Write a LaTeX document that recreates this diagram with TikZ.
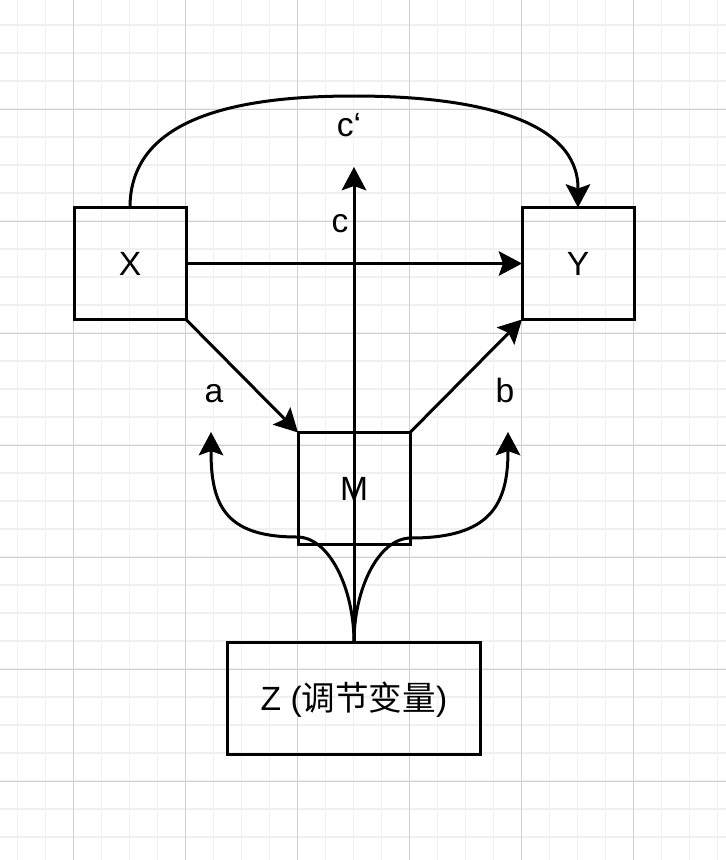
\documentclass[tikz,border=0pt]{standalone}
\usepackage{fontspec}
\setmainfont{Liberation Sans}
\newfontfamily\cjk{Noto Sans CJK SC}
\usetikzlibrary{arrows.meta}
\definecolor{gridminor}{RGB}{240,240,240}
\definecolor{gridmajor}{RGB}{208,208,208}
\begin{document}
\begin{tikzpicture}[x=1pt,y=-1pt,
  bigfont/.style={font=\fontsize{33.6}{40}\selectfont},
  box/.style={draw=black, line width=3pt, outer sep=0pt, inner sep=0pt,
    minimum width=112pt, minimum height=112pt, text height=24pt, text depth=0pt, bigfont},
  lbl/.style={anchor=base, inner sep=0pt, bigfont},
  conn/.style={line width=3pt, -{Stealth[length=23.5pt,width=25pt,inset=4.5pt,line width=0pt]}},
  minorline/.style={draw=gridminor, line width=1.5pt},
  majorline/.style={draw=gridmajor, line width=1pt}]
\useasboundingbox (0,0) rectangle (726,860);
\fill[white] (0,0) rectangle (726,860);
% grid
\foreach \i in {0,...,25} \draw[minorline] ({17.3+28*\i},0) -- ({17.3+28*\i},860);
\foreach \j in {0,...,29} \draw[minorline] (0,{25+28*\j}) -- (726,{25+28*\j});
\foreach \i in {0,...,5} \draw[majorline] ({73.3+112*\i},0) -- ({73.3+112*\i},860);
\foreach \j in {0,...,6} \draw[majorline] (0,{109+112*\j}) -- (726,{109+112*\j});
% boxes
\node[box] (X) at (130,263.5) {X};
\node[box] (Y) at (578,263.5) {Y};
\node[box] (M) at (354,488.5) {M};
\node[box, minimum width=253pt] (Z) at (354,698) {Z ({\cjk 调节变量})};
% labels
\node[lbl] (la) at (214,402) {a};
\node[lbl] (lb) at (505,402) {b};
\node[lbl] (lc) at (340,232) {c};
\node[lbl] (lcp) at (349,136) {c‘};
% coordinates
\coordinate (ctip) at (354,167);
\coordinate (ctop) at (354,96);
\coordinate (atip) at (211,432);
\coordinate (btip) at (508,432);
% connectors
\draw[conn] (X.east) -- (Y.west);
\draw[conn] (X.south east) -- (M.north west);
\draw[conn] (M.north east) -- (Y.south west);
\draw[conn] (Z.north) -- (ctip);
\draw[conn] (X.north) .. controls +(0,-87) and +(-124,0) .. (ctop) .. controls +(124,0) and +(0,-87) .. (Y.north);
\draw[conn] (Z.north) .. controls (354,590) and (330,537) .. (297,537) .. controls (225,537) and (211,505) .. (atip);
\draw[conn] (Z.north) .. controls (354,590) and (378,538) .. (411,538) .. controls (490,538) and (508,505) .. (btip);
\end{tikzpicture}
\end{document}
